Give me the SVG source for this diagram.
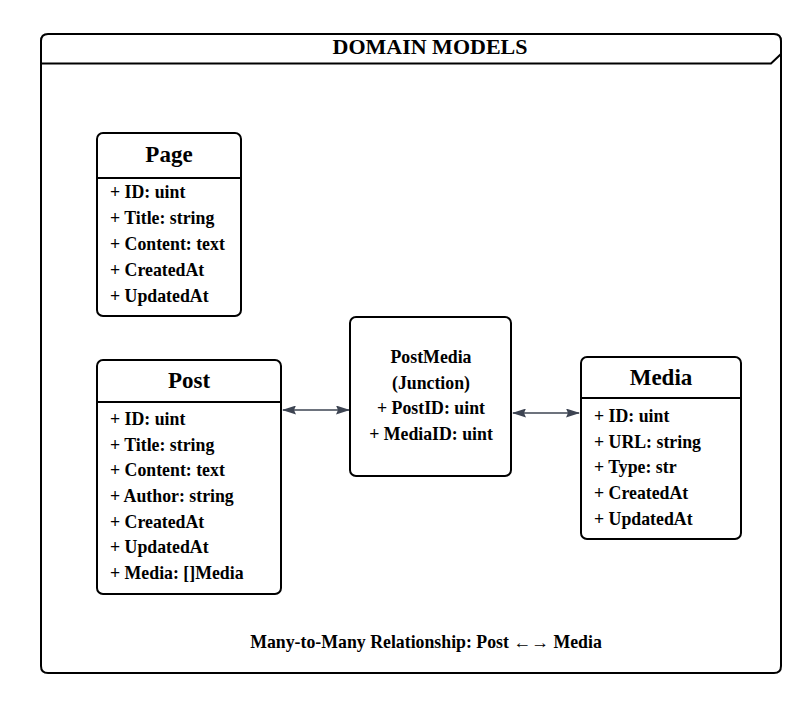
<svg xmlns="http://www.w3.org/2000/svg" width="812" height="717" viewBox="0 0 812 717">
<style>
.box{fill:#fff;stroke:#000;stroke-width:2}
.div{stroke:#000;stroke-width:2}
text{font-family:"Liberation Serif","Times New Roman",serif;font-weight:bold;fill:#000}
.title{font-size:23px;text-anchor:middle}
.attr{font-size:17.8px}
.mid{text-anchor:middle}
.conn{stroke:#3d4452;stroke-width:1.5;fill:none;marker-start:url(#arrS);marker-end:url(#arrE)}
</style>
<defs>
<marker id="arrE" markerWidth="14" markerHeight="9" refX="13" refY="4.5" orient="auto" markerUnits="userSpaceOnUse" viewBox="0 0 14 9"><path d="M0,0 L14,4.5 L0,9 L2,4.5 Z" fill="#3d4452"/></marker>
<marker id="arrS" markerWidth="14" markerHeight="9" refX="1" refY="4.5" orient="auto" markerUnits="userSpaceOnUse" viewBox="0 0 14 9"><path d="M14,0 L0,4.5 L14,9 L12,4.5 Z" fill="#3d4452"/></marker>
</defs>
<rect width="812" height="717" fill="#fff"/>
<g id="frame">
<path d="M41,666 L41,41 Q41,34 48,34 L774,34 Q781,34 781,41 L781,666 Q781,673 774,673 L48,673 Q41,673 41,666 Z" fill="none" stroke="#000" stroke-width="2"/>
<path d="M41,63.5 L771,63.5 L781,54" fill="none" stroke="#000" stroke-width="2"/>
<text x="430" y="54" class="mid" style="font-size:22px">DOMAIN MODELS</text>
</g>
<g id="connectors">
<line x1="283" y1="410" x2="349" y2="410" class="conn"/>
<line x1="513" y1="413" x2="579" y2="413" class="conn"/>
</g>
<g id="page">
<rect x="97" y="133" width="144" height="183" rx="6" class="box"/>
<line x1="97" y1="178" x2="241" y2="178" class="div"/>
<text x="169" y="162" class="title">Page</text>
<text x="110" y="198" class="attr">+ ID: uint</text>
<text x="110" y="224" class="attr">+ Title: string</text>
<text x="110" y="250" class="attr">+ Content: text</text>
<text x="110" y="276" class="attr">+ CreatedAt</text>
<text x="110" y="302" class="attr">+ UpdatedAt</text>
</g>
<g id="post">
<rect x="97" y="360" width="184" height="234" rx="6" class="box"/>
<line x1="97" y1="402" x2="281" y2="402" class="div"/>
<text x="189" y="388" class="title">Post</text>
<text x="110" y="425" class="attr">+ ID: uint</text>
<text x="110" y="451" class="attr">+ Title: string</text>
<text x="110" y="476" class="attr">+ Content: text</text>
<text x="110" y="502" class="attr">+ Author: string</text>
<text x="110" y="528" class="attr">+ CreatedAt</text>
<text x="110" y="553" class="attr">+ UpdatedAt</text>
<text x="110" y="579" class="attr">+ Media: []Media</text>
</g>
<g id="postmedia">
<rect x="350" y="317" width="161" height="159" rx="6" class="box"/>
<text x="431" y="363" class="attr mid">PostMedia</text>
<text x="431" y="389" class="attr mid">(Junction)</text>
<text x="431" y="414" class="attr mid">+ PostID: uint</text>
<text x="431" y="440" class="attr mid">+ MediaID: uint</text>
</g>
<g id="media">
<rect x="581" y="357" width="160" height="182" rx="6" class="box"/>
<line x1="581" y1="398" x2="741" y2="398" class="div"/>
<text x="661" y="385" class="title">Media</text>
<text x="594" y="422" class="attr">+ ID: uint</text>
<text x="594" y="448" class="attr">+ URL: string</text>
<text x="594" y="473" class="attr">+ Type: str</text>
<text x="594" y="499" class="attr">+ CreatedAt</text>
<text x="594" y="525" class="attr">+ UpdatedAt</text>
</g>
<g id="caption">
<text x="426" y="648" class="attr mid">Many-to-Many Relationship: Post ←→ Media</text>
</g>
</svg>
